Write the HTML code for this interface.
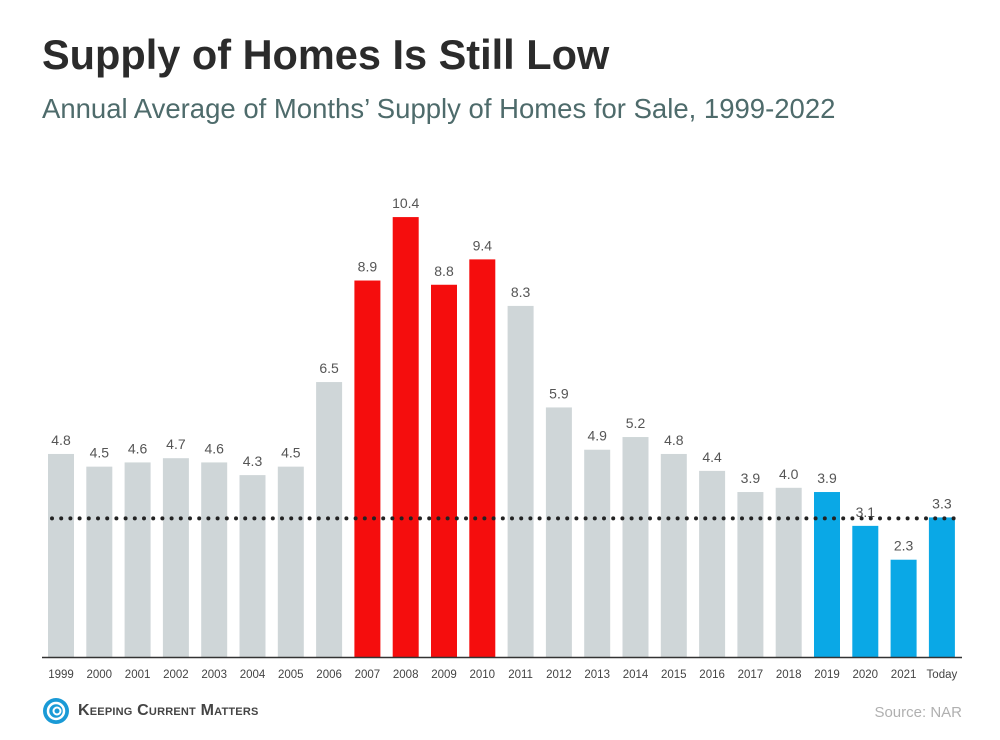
<!DOCTYPE html>
<html><head><meta charset="utf-8">
<style>
body{margin:0;width:1000px;height:740px;background:#fff;font-family:"Liberation Sans",sans-serif;overflow:hidden;position:relative}
h1{position:absolute;left:42px;top:31px;margin:0;font-size:41.5px;font-weight:bold;color:#2b2b2b}
h2{position:absolute;left:42px;top:93px;margin:0;font-size:27.5px;font-weight:normal;color:#4e6b6b}
#src{position:absolute;right:38px;top:704px;font-size:15px;color:#b0b0b0}
#logo{position:absolute;left:42px;top:697px;display:flex;align-items:center;gap:8px;font-size:16px;font-weight:bold;color:#444;font-variant:small-caps;letter-spacing:0.2px}
</style></head><body>
<h1>Supply of Homes Is Still Low</h1>
<h2>Annual Average of Months’ Supply of Homes for Sale, 1999-2022</h2>
<div id="logo"><svg width="28" height="28" viewBox="0 0 28 28"><circle cx="14" cy="14" r="13" fill="#1a9ad6"/><circle cx="14" cy="14" r="8" fill="none" stroke="#fff" stroke-width="2.5"/><circle cx="15" cy="14" r="3.5" fill="none" stroke="#fff" stroke-width="2"/></svg><span>Keeping Current Matters</span></div>
<div id="src">Source: NAR</div>
<svg id="chart" width="1000" height="740" style="position:absolute;left:0;top:0"></svg>
<script>
const categories=["1999","2000","2001","2002","2003","2004","2005","2006","2007","2008","2009","2010","2011","2012","2013","2014","2015","2016","2017","2018","2019","2020","2021","Today"];
const values=[4.8,4.5,4.6,4.7,4.6,4.3,4.5,6.5,8.9,10.4,8.8,9.4,8.3,5.9,4.9,5.2,4.8,4.4,3.9,4.0,3.9,3.1,2.3,3.3];
const valueLabels=["4.8","4.5","4.6","4.7","4.6","4.3","4.5","6.5","8.9","10.4","8.8","9.4","8.3","5.9","4.9","5.2","4.8","4.4","3.9","4.0","3.9","3.1","2.3","3.3"];
const groups=["g","g","g","g","g","g","g","g","r","r","r","r","g","g","g","g","g","g","g","g","b","b","b","b"];
const refValue=3.3;
const NS="http://www.w3.org/2000/svg";
const svg=document.getElementById('chart');
const base=657,k=42.3,x0=61,step=38.3,bw=26;
const x=i=>x0+i*step, y=v=>base-v*k;
const colors={g:"#cfd6d8",r:"#f50d0d",b:"#0aa8e6"};
function mk(t,a){const e=document.createElementNS(NS,t);for(const q in a)e.setAttribute(q,a[q]);svg.appendChild(e);return e;}
categories.forEach((c,i)=>{
 const r=mk('rect',{x:x(i)-bw/2,y:y(values[i]),width:bw,height:values[i]*k,fill:colors[groups[i]]});
 
 
 const t=mk('text',{x:x(i),y:y(values[i])-9,'text-anchor':'middle','font-size':14,fill:'#555'});
 t.textContent=valueLabels[i];
 
 
 const l=mk('text',{x:x(i),y:678,'text-anchor':'middle','font-size':11.5,fill:'#444'});
 l.textContent=c;
 
 
});
const ax=mk('line',{x1:42,x2:962,y1:base+0.5,y2:base+0.5,stroke:'#333','stroke-width':1.5});


const rl=mk('line',{x1:52,x2:958,y1:y(refValue)+1,y2:y(refValue)+1,stroke:'#222','stroke-width':4,'stroke-dasharray':'0 9.2','stroke-linecap':'round'});


</script>
</body></html>
